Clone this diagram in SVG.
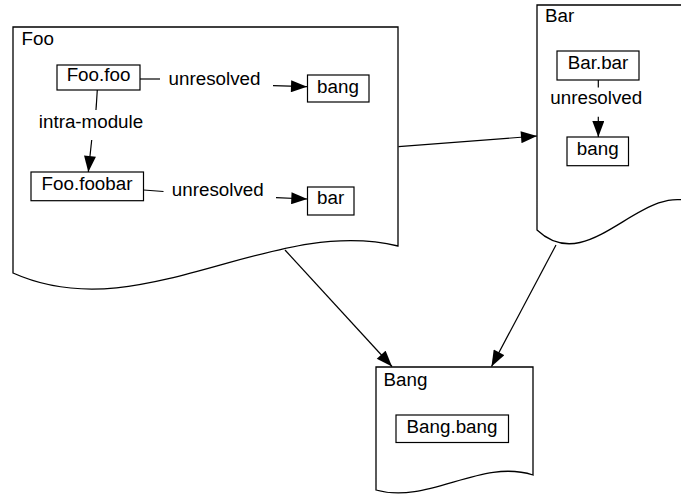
<svg xmlns="http://www.w3.org/2000/svg" width="681" height="496" viewBox="0 0 681 496">
  <style>
    .doc { fill: #ffffff; stroke: #000000; stroke-width: 1.3; }
    .box { fill: #ffffff; stroke: #000000; stroke-width: 1.2; }
    .edge { fill: none; stroke: #000000; stroke-width: 1.2; }
    .arrow { marker-end: url(#head); }
    text { font-family: "Liberation Sans", Arial, Helvetica, sans-serif; font-size: 18.8px; fill: #000000; }
    .c { text-anchor: middle; }
  </style>
  <defs>
    <marker id="head" markerUnits="userSpaceOnUse" markerWidth="17" markerHeight="12" refX="16" refY="6" orient="auto" viewBox="0 0 16 12">
      <path d="M0,0 L16,6 L0,12 Z" fill="#000000"/>
    </marker>
  </defs>

  <rect width="681" height="496" fill="#ffffff"/>

  <!-- Containers -->
  <g id="Foo">
    <path class="doc" d="M13,27 L398,27 L398,246 C270,215 140,330 13,273 Z"/>
    <text x="21.5" y="45">Foo</text>
  </g>
  <g id="Bar">
    <path class="doc" d="M537,5 L694,5 L694,203 C642,180 589,279 537,230 Z"/>
    <text x="545" y="22">Bar</text>
  </g>
  <g id="Bang">
    <path class="doc" d="M376,367 L533,367 L533,475 C481,458 428,505 376,490 Z"/>
    <text x="383.5" y="386">Bang</text>
  </g>

  <!-- Inner nodes -->
  <g id="Foo.foo">
    <rect class="box" x="57" y="65" width="83" height="25"/>
    <text class="c" x="98.5" y="81">Foo.foo</text>
  </g>
  <g id="Foo.bang">
    <rect class="box" x="307.5" y="75" width="61.5" height="27"/>
    <text class="c" x="338" y="93.3">bang</text>
  </g>
  <g id="Foo.foobar">
    <rect class="box" x="31" y="172" width="112.5" height="28.7"/>
    <text class="c" x="87" y="189.5">Foo.foobar</text>
  </g>
  <g id="Foo.bar">
    <rect class="box" x="307.5" y="187" width="46.5" height="28"/>
    <text class="c" x="330.7" y="203.5">bar</text>
  </g>
  <g id="Bar.bar">
    <rect class="box" x="557" y="51" width="82" height="29"/>
    <text class="c" x="598" y="68.5">Bar.bar</text>
  </g>
  <g id="Bar.bang">
    <rect class="box" x="567" y="137" width="61.5" height="28.7"/>
    <text class="c" x="597.7" y="155">bang</text>
  </g>
  <g id="Bang.bang">
    <rect class="box" x="396" y="415" width="112.5" height="27.5"/>
    <text class="c" x="452" y="432.5">Bang.bang</text>
  </g>

  <!-- Connectors -->
  <g id="connectors">
    <!-- Foo.foo -> bang (unresolved) -->
    <path class="edge" d="M140,79 L160,79"/>
    <text class="c" x="214.5" y="85">unresolved</text>
    <path class="edge arrow" d="M273,85.7 L307,86.7"/>

    <!-- Foo.foo -> Foo.foobar (intra-module) -->
    <path class="edge" d="M97.3,90 L96,110"/>
    <text class="c" x="91" y="127.5">intra-module</text>
    <path class="edge arrow" d="M91.7,140 L88.3,172"/>

    <!-- Foo.foobar -> bar (unresolved) -->
    <path class="edge" d="M143.5,190 L163.5,191.5"/>
    <text class="c" x="217.8" y="196">unresolved</text>
    <path class="edge arrow" d="M276,197.7 L307.3,199"/>

    <!-- Bar.bar -> bang (unresolved) -->
    <path class="edge" d="M598.3,80 L598.3,87.5"/>
    <text class="c" x="596.3" y="104">unresolved</text>
    <path class="edge arrow" d="M598.3,116.7 L598.3,137"/>

    <!-- Foo -> Bar -->
    <path class="edge arrow" d="M398.5,146.7 L537,136"/>

    <!-- Foo -> Bang -->
    <path class="edge arrow" d="M285,250 L392,366.5"/>

    <!-- Bar -> Bang -->
    <path class="edge arrow" d="M556,245 L491.5,366.5"/>
  </g>
</svg>
